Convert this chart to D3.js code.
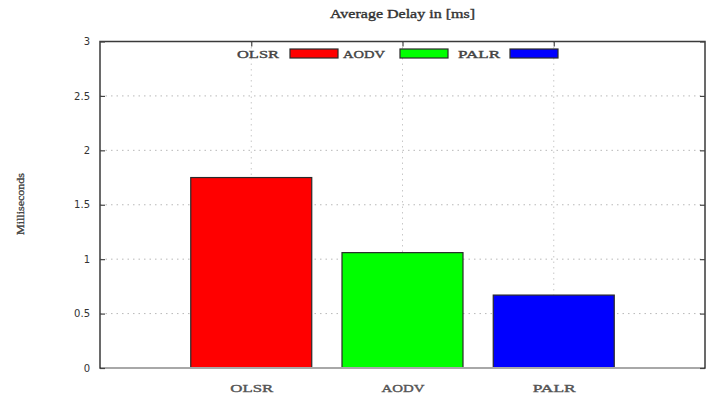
<!DOCTYPE html>
<html>
<head>
<meta charset="utf-8">
<script src="https://cdn.jsdelivr.net/npm/d3@7"></script>
<style>
  html, body { margin: 0; padding: 0; background: #fff; }
  svg { display: block; }
</style>
</head>
<body>
<svg id="chart" width="713" height="396"></svg>
<script>
// Protocols compared and their mean delay (milliseconds)
const categories = ["OLSR", "AODV", "PALR"];
const delays = [1.75, 1.06, 0.67];
const barColors = ["#ff0000", "#00ff00", "#0000ff"];
const yTicks = [0, 0.5, 1, 1.5, 2, 2.5, 3];
const yTickLabels = ["0", "0.5", "1", "1.5", "2", "2.5", "3"];
const titleText = "Average Delay in [ms]";
const yTitle = "Milliseconds";

const svg = d3.select("#chart");
const margin = { left: 100, right: 8, top: 41.5, bottom: 28 };
const W = 713, H = 396;
const plotL = margin.left, plotR = W - margin.right;
const plotT = margin.top, plotB = H - margin.bottom;

// categories sit at positions 1..n on a 0..n+1 axis
const x = d3.scaleLinear().domain([0, categories.length + 1]).range([plotL, plotR]);
const y = d3.scaleLinear().domain([0, 3]).range([plotB, plotT]);
const barW = x(0.8) - x(0);

const serif = "'Liberation Serif', 'Times New Roman', serif";
const sans = "'DejaVu Sans', sans-serif";

// slightly heavier regular text
function inked(sel, color) {
  return sel.attr("fill", color).attr("stroke", color).attr("stroke-width", 0.35);
}

// dotted grid
const grid = svg.append("g");
grid.selectAll("line.h").data(yTicks.filter(v => v > 0 && v < 3)).join("line")
  .attr("x1", plotL).attr("x2", plotR)
  .attr("y1", d => y(d)).attr("y2", d => y(d))
  .attr("stroke", "#b8b8b8").attr("stroke-width", 1)
  .attr("stroke-dasharray", "1.5,4");
grid.selectAll("line.v").data(categories).join("line")
  .attr("x1", (d, i) => x(i + 1)).attr("x2", (d, i) => x(i + 1))
  .attr("y1", plotT).attr("y2", plotB)
  .attr("stroke", "#c8c8c8").attr("stroke-width", 1)
  .attr("stroke-dasharray", "1.5,4");

// bars
svg.append("g").selectAll("rect").data(delays).join("rect")
  .attr("x", (d, i) => x(i + 1) - barW / 2)
  .attr("width", barW)
  .attr("y", d => y(d))
  .attr("height", d => y(0) - y(d))
  .attr("fill", (d, i) => barColors[i])
  .attr("stroke", "#2a2a2a").attr("stroke-width", 1.2);

// frame
svg.append("rect")
  .attr("x", plotL).attr("y", plotT)
  .attr("width", plotR - plotL).attr("height", plotB - plotT)
  .attr("fill", "none").attr("stroke", "#3a3a3a").attr("stroke-width", 1.5);
// zero baseline
svg.append("line")
  .attr("x1", plotL + 1).attr("x2", plotR - 1)
  .attr("y1", y(0)).attr("y2", y(0))
  .attr("stroke", "#a8a8a8").attr("stroke-width", 2.2);

// y axis ticks + labels (left), mirrored ticks on the right
const yAxis = d3.axisLeft(y).tickValues(yTicks).tickSize(-5).tickPadding(10)
  .tickFormat((d, i) => yTickLabels[i]);
const gy = svg.append("g").attr("transform", `translate(${plotL},0)`).call(yAxis);
gy.select(".domain").remove();
gy.selectAll(".tick line").attr("stroke", "#444").attr("stroke-width", 1.2);
gy.selectAll(".tick text").attr("font-family", sans).attr("font-size", 10)
  .attr("fill", "#333").attr("x", -10);
const gyR = svg.append("g").attr("transform", `translate(${plotR},0)`)
  .call(d3.axisRight(y).tickValues(yTicks).tickSize(-5).tickFormat(""));
gyR.select(".domain").remove();
gyR.selectAll(".tick line").attr("stroke", "#444").attr("stroke-width", 1.2);

// x axis labels and top ticks
const xAxis = d3.axisBottom(x).tickValues(categories.map((c, i) => i + 1))
  .tickSize(0).tickPadding(16).tickFormat((d, i) => categories[i]);
const gx = svg.append("g").attr("transform", `translate(0,${plotB})`).call(xAxis);
gx.select(".domain").remove();
inked(gx.selectAll(".tick text"), "#555")
  .attr("font-family", serif).attr("font-size", 11)
  .attr("textLength", 43).attr("lengthAdjust", "spacingAndGlyphs");
const gxT = svg.append("g").attr("transform", `translate(0,${plotT})`)
  .call(d3.axisTop(x).tickValues(categories.map((c, i) => i + 1)).tickSize(-5).tickFormat(""));
gxT.select(".domain").remove();
gxT.selectAll(".tick line").attr("stroke", "#444").attr("stroke-width", 1.2);

// title
inked(svg.append("text"), "#333")
  .attr("x", (plotL + plotR) / 2).attr("y", 17.5)
  .attr("text-anchor", "middle")
  .attr("font-family", serif).attr("font-size", 12)
  .attr("textLength", 145).attr("lengthAdjust", "spacingAndGlyphs")
  .text(titleText);

// y axis title
inked(svg.append("text"), "#444")
  .attr("transform", `translate(24,${204}) rotate(-90)`)
  .attr("text-anchor", "middle")
  .attr("font-family", serif).attr("font-size", 10)
  .attr("textLength", 62).attr("lengthAdjust", "spacingAndGlyphs")
  .text(yTitle);

// legend: label then swatch, in a single row
const legend = svg.append("g");
const legendLabelX = [237, 343, 458];
const legendBoxX = [290, 400, 510];
const legendY = 53.5;
categories.forEach((c, i) => {
  inked(legend.append("text"), "#444")
    .attr("x", legendLabelX[i]).attr("y", legendY + 4)
    .attr("font-family", serif).attr("font-size", 11)
    .attr("textLength", 42).attr("lengthAdjust", "spacingAndGlyphs")
    .text(c);
  legend.append("rect")
    .attr("x", legendBoxX[i]).attr("y", legendY - 4.5)
    .attr("width", 48).attr("height", 9)
    .attr("fill", barColors[i])
    .attr("stroke", "#2a2a2a").attr("stroke-width", 1.2);
});
</script>
</body>
</html>
